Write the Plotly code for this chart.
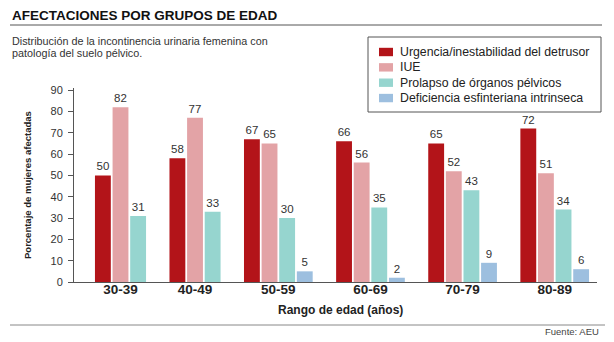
import plotly.graph_objects as go

# ---------------- data ----------------
groups = ["30-39", "40-49", "50-59", "60-69", "70-79", "80-89"]
series_names = [
    "Urgencia/inestabilidad del detrusor",
    "IUE",
    "Prolapso de órganos pélvicos",
    "Deficiencia esfinteriana intrinseca",
]
urgencia = [50, 58, 67, 66, 65, 72]
iue = [82, 77, 65, 56, 52, 51]
prolapso = [31, 33, 30, 35, 43, 34]
deficiencia = [None, None, 5, 2, 9, 6]
y_ticks = [0, 10, 20, 30, 40, 50, 60, 70, 80, 90]

colors = ["#B31419", "#E3A3A6", "#96D5CF", "#9DBFDF"]

series = [urgencia, iue, prolapso, deficiencia]

# ---------------- layout constants ----------------
W, H = 614, 342
ML, MR, MT, MB = 74, 17, 88, 60
PW, PH = W - ML - MR, H - MT - MB
GROUP_GAP = 1.23
BAR_W = 0.9


def px(x):
    return (x - ML) / PW


def py(y):
    return (H - MB - y) / PH


# bar slots: groups are packed with as many slots as they have bars
n_per_group = [sum(1 for s in series if s[g] is not None) for g in range(len(groups))]
starts = []
p = 0.0
for n in n_per_group:
    starts.append(p)
    p += n + GROUP_GAP
end = starts[-1] + n_per_group[-1]
centers = [s + n / 2 for s, n in zip(starts, n_per_group)]

fig = go.Figure()
for k, (name, vals, col) in enumerate(zip(series_names, series, colors)):
    xs, ys = [], []
    for g, v in enumerate(vals):
        if v is None:
            continue
        idx = sum(1 for j in range(k) if series[j][g] is not None)
        xs.append(starts[g] + idx + 0.5)
        ys.append(v)
    fig.add_trace(go.Bar(
        x=xs, y=ys, name=name, width=BAR_W,
        marker=dict(color=col, line=dict(width=0)),
        text=[str(v) for v in ys], textposition="outside",
        textfont=dict(size=11.5, color="#333", family="Arial"),
        cliponaxis=False, showlegend=False,
    ))

fig.update_layout(
    width=W, height=H,
    margin=dict(l=ML, r=MR, t=MT, b=MB, pad=0, autoexpand=False),
    paper_bgcolor="white", plot_bgcolor="white",
    barmode="overlay",
    showlegend=False,
    font=dict(family="Arial", color="#222"),
    xaxis=dict(
        range=[-1.14, end + 0.4],
        tickvals=centers, ticktext=groups,
        showline=True, linecolor="#555", linewidth=1,
        ticks="", showgrid=False, zeroline=False,
        tickfont=dict(size=13.5, family="Arial", color="#222", weight="bold"),
        ticklabelstandoff=-5,
    ),
    yaxis=dict(
        range=[0, 91], tickvals=y_ticks,
        showline=True, linecolor="#555", linewidth=1,
        ticks="outside", ticklen=5, tickcolor="#555",
        showgrid=False, zeroline=False,
        tickfont=dict(size=11, family="Arial", color="#333"),
        ticklabelstandoff=3,
    ),
    yaxis2=dict(
        overlaying="y", range=[0, 91], tickvals=y_ticks,
        ticks="inside", ticklen=4, tickcolor="#555",
        showticklabels=False, showgrid=False, zeroline=False, showline=False,
    ),
)

annotations = [
    dict(text="AFECTACIONES POR GRUPOS DE EDAD", x=px(10), y=py(15.5), xanchor="left", yanchor="middle",
         font=dict(size=13.5, family="Arial", color="#111", weight="bold")),
    dict(text="Distribución de la incontinencia urinaria femenina con", x=px(10), y=py(41.5), xanchor="left",
         yanchor="middle", font=dict(size=10.8, family="Arial", color="#333")),
    dict(text="patología del suelo pélvico.", x=px(10), y=py(53.5), xanchor="left",
         yanchor="middle", font=dict(size=10.8, family="Arial", color="#333")),
    dict(text="Porcentaje de mujeres afectadas", x=px(27), y=py(185), xanchor="center", yanchor="middle",
         textangle=-90,
         font=dict(size=9.5, family="Arial", color="#222", weight="bold")),
    dict(text="Rango de edad (años)", x=px(340), y=py(310), xanchor="center", yanchor="middle",
         font=dict(size=12, family="Arial", color="#222", weight="bold")),
    dict(text="Fuente: AEU", x=px(601), y=py(331), xanchor="right", yanchor="middle",
         font=dict(size=9.5, family="Arial", color="#444")),
]

shapes = [
    dict(type="line", xref="paper", yref="paper", x0=px(10), x1=px(602), y0=py(25), y1=py(25),
         line=dict(color="#555", width=1)),
    dict(type="line", xref="paper", yref="paper", x0=px(10), x1=px(605), y0=py(325), y1=py(325),
         line=dict(color="#888", width=1)),
    # legend box
    dict(type="rect", xref="paper", yref="paper", x0=px(368), x1=px(601), y0=py(37), y1=py(112),
         line=dict(color="#555", width=1), fillcolor="white", layer="below"),
]

# legend entries (swatch + label)
ROW0, ROW_STEP = 52, 15.35
for i, (name, col) in enumerate(zip(series_names, colors)):
    yc = ROW0 + i * ROW_STEP
    shapes.append(dict(type="rect", xref="paper", yref="paper", x0=px(379), x1=px(393),
                       y0=py(yc - 4.2), y1=py(yc + 4.2), line=dict(width=0), fillcolor=col))
    annotations.append(dict(text=name, x=px(398), y=py(yc), xanchor="left", yanchor="middle",
                            font=dict(size=12.3, family="Arial", color="#222")))

for a in annotations:
    a.update(xref="paper", yref="paper", showarrow=False)
fig.update_layout(annotations=annotations, shapes=shapes)

fig.write_html("out.html")
